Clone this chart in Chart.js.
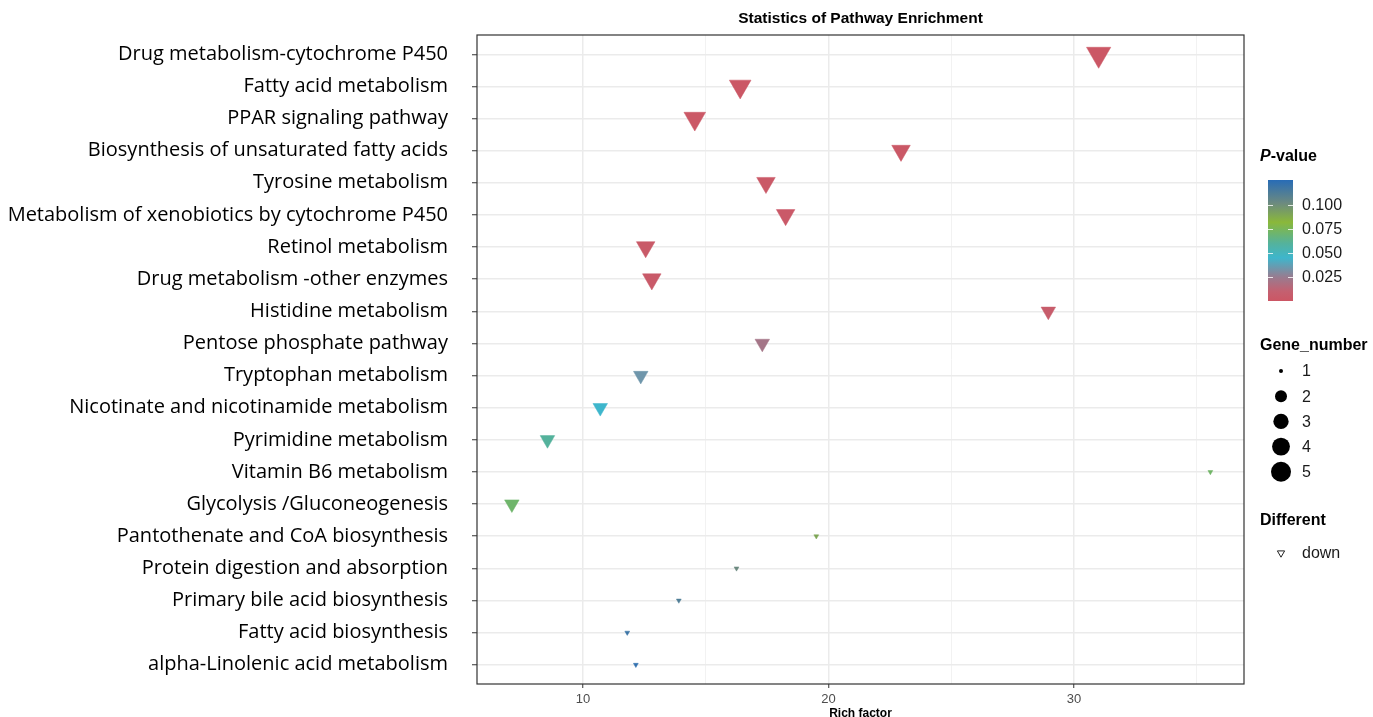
<!DOCTYPE html>
<html>
<head>
<meta charset="utf-8">
<script src="https://cdn.jsdelivr.net/npm/chart.js@4.4.1/dist/chart.umd.min.js"></script>
<style>
  body { margin: 0; background: #fff; }
  canvas { display: block; }
</style>
</head>
<body>
<canvas id="enrichChart" width="1373" height="717"></canvas>
<script>
const pathways = [
    'Drug metabolism-cytochrome P450',
    'Fatty acid metabolism',
    'PPAR signaling pathway',
    'Biosynthesis of unsaturated fatty acids',
    'Tyrosine metabolism',
    'Metabolism of xenobiotics by cytochrome P450',
    'Retinol metabolism',
    'Drug metabolism -other enzymes',
    'Histidine metabolism',
    'Pentose phosphate pathway',
    'Tryptophan metabolism',
    'Nicotinate and nicotinamide metabolism',
    'Pyrimidine metabolism',
    'Vitamin B6 metabolism',
    'Glycolysis /Gluconeogenesis',
    'Pantothenate and CoA biosynthesis',
    'Protein digestion and absorption',
    'Primary bile acid biosynthesis',
    'Fatty acid biosynthesis',
    'alpha-Linolenic acid metabolism'
];
const richFactor = [31.0, 16.4, 14.55, 22.95, 17.45, 18.25, 12.55, 12.8, 28.95, 17.3,
                    12.35, 10.7, 8.55, 35.55, 7.1, 19.5, 16.25, 13.9, 11.8, 12.15];
const pValues = [0.0008, 0.0012, 0.0015, 0.002, 0.0025, 0.003, 0.0035, 0.004, 0.006, 0.021,
                 0.034, 0.045, 0.06, 0.072, 0.071, 0.09, 0.102, 0.112, 0.119, 0.123];
const geneNumber = [5, 4, 4, 3, 3, 3, 3, 3, 2, 2, 2, 2, 2, 1, 2, 1, 1, 1, 1, 1];

const xTicks = [10, 20, 30];
const xMinor = [15, 25, 35];
const pTicks = [0.025, 0.05, 0.075, 0.1];
const geneTicks = [1, 2, 3, 4, 5];

const P_MIN = 0, P_MAX = 0.126;
const colorStops = [
    [0.000, [204, 86, 100]],
    [0.010, [196, 96, 112]],
    [0.025, [152, 124, 144]],
    [0.045, [62, 182, 204]],
    [0.060, [84, 178, 156]],
    [0.082, [138, 184, 58]],
    [0.102, [108, 138, 128]],
    [0.126, [40, 108, 182]]
];

function pColor(p) {
    for (let i = 1; i < colorStops.length; i++) {
        const [p1, c1] = colorStops[i];
        const [p0, c0] = colorStops[i - 1];
        if (p <= p1 || i === colorStops.length - 1) {
            const t = Math.max(0, Math.min(1, (p - p0) / (p1 - p0)));
            const c = c0.map((v, k) => Math.round(v + (c1[k] - v) * t));
            return `rgb(${c[0]},${c[1]},${c[2]})`;
        }
    }
}

// area-style size scale, like scale_size
const sizeFrac = n => Math.sqrt((n - 1) / 4);
const triRadius = n => 2.8 + sizeFrac(n) * (14 - 2.8);
const dotRadius = n => 2 + sizeFrac(n) * 8;

const SANS = '"Liberation Sans", Arial, Helvetica, sans-serif';

const panelFrame = {
    id: 'panelFrame',
    beforeDatasetsDraw(chart) {
        const { ctx, chartArea: a } = chart;
        ctx.save();
        ctx.strokeStyle = '#333';
        ctx.lineWidth = 1.2;
        ctx.strokeRect(a.left, a.top, a.right - a.left, a.bottom - a.top);
        ctx.restore();
    }
};

const extras = {
    id: 'extras',
    afterDraw(chart) {
        const { ctx, chartArea: a } = chart;
        ctx.save();
        ctx.fillStyle = '#000';
        ctx.textBaseline = 'middle';

        // title and x axis title
        ctx.textAlign = 'center';
        ctx.font = `bold 15.5px ${SANS}`;
        ctx.fillText('Statistics of Pathway Enrichment', (a.left + a.right) / 2, 19);
        ctx.font = `bold 12px ${SANS}`;
        ctx.fillText('Rich factor', (a.left + a.right) / 2, 714);

        ctx.textAlign = 'left';
        const lx = 1260, labX = 1302;

        // P-value colour bar
        ctx.font = `italic bold 16px ${SANS}`;
        ctx.fillText('P', lx, 157);
        const pw = ctx.measureText('P').width;
        ctx.font = `bold 16px ${SANS}`;
        ctx.fillText('-value', lx + pw, 157);

        const barL = 1268, barR = 1293, barTop = 180, barBot = 301;
        const py = p => barBot - (p - P_MIN) / (P_MAX - P_MIN) * (barBot - barTop);
        const grad = ctx.createLinearGradient(0, barBot, 0, barTop);
        colorStops.forEach(([p, c]) => {
            grad.addColorStop((p - P_MIN) / (P_MAX - P_MIN), `rgb(${c[0]},${c[1]},${c[2]})`);
        });
        ctx.fillStyle = grad;
        ctx.fillRect(barL, barTop, barR - barL, barBot - barTop);

        ctx.strokeStyle = 'rgba(255,255,255,0.8)';
        ctx.lineWidth = 1;
        ctx.font = `16px ${SANS}`;
        ctx.fillStyle = '#1a1a1a';
        pTicks.forEach(p => {
            const y = Math.round(py(p)) + 0.5;
            ctx.beginPath();
            ctx.moveTo(barL, y); ctx.lineTo(barL + 5, y);
            ctx.moveTo(barR - 5, y); ctx.lineTo(barR, y);
            ctx.stroke();
            ctx.fillText(p.toFixed(3), labX, py(p) + 1);
        });

        // Gene_number sizes
        ctx.fillStyle = '#000';
        ctx.font = `bold 16px ${SANS}`;
        ctx.fillText('Gene_number', lx, 346);
        geneTicks.forEach((n, i) => {
            const y = 371 + i * 25.2;
            ctx.beginPath();
            ctx.arc(1281, y, dotRadius(n), 0, Math.PI * 2);
            ctx.fill();
            ctx.font = `16px ${SANS}`;
            ctx.fillStyle = '#1a1a1a';
            ctx.fillText(String(n), labX, y + 1);
            ctx.fillStyle = '#000';
        });

        // Different
        ctx.font = `bold 16px ${SANS}`;
        ctx.fillText('Different', lx, 521);
        ctx.strokeStyle = '#222';
        ctx.lineWidth = 1;
        const tx = 1281, ty = 553, tr = 4.2;
        ctx.beginPath();
        ctx.moveTo(tx - tr * 0.866, ty - tr / 2);
        ctx.lineTo(tx + tr * 0.866, ty - tr / 2);
        ctx.lineTo(tx, ty + tr);
        ctx.closePath();
        ctx.stroke();
        ctx.font = `16px ${SANS}`;
        ctx.fillStyle = '#1a1a1a';
        ctx.fillText('down', labX, ty + 1);

        ctx.restore();
    }
};

new Chart(document.getElementById('enrichChart'), {
    type: 'scatter',
    data: {
        datasets: [{
            label: 'down',
            data: richFactor.map((x, i) => ({ x: x, y: i })),
            pointStyle: 'triangle',
            rotation: 180,
            pointRadius: geneNumber.map(triRadius),
            pointHoverRadius: geneNumber.map(triRadius),
            backgroundColor: pValues.map(pColor),
            borderColor: pValues.map(pColor),
            borderWidth: 0.5
        }]
    },
    options: {
        responsive: false,
        animation: false,
        events: [],
        layout: { padding: { top: 35, right: 129, bottom: 0, left: 0 } },
        plugins: { legend: { display: false }, tooltip: { enabled: false } },
        scales: {
            x: {
                type: 'linear',
                min: 5.68,
                max: 36.92,
                afterBuildTicks: scale => {
                    scale.ticks = [...xTicks, ...xMinor].sort((a, b) => a - b).map(v => ({ value: v }));
                },
                afterFit: scale => {
                    scale.height = 33;
                    scale.paddingLeft = 0;
                    scale.paddingRight = 0;
                },
                border: { display: false },
                grid: {
                    color: ctx => xTicks.includes(ctx.tick?.value) ? '#EBEBEB' : '#F2F2F2',
                    lineWidth: ctx => xTicks.includes(ctx.tick?.value) ? 1.5 : 1,
                    tickColor: ctx => xTicks.includes(ctx.tick?.value) ? '#333' : 'rgba(0,0,0,0)',
                    tickLength: 4,
                    tickWidth: 1
                },
                ticks: {
                    callback: v => xTicks.includes(v) ? String(v) : '',
                    color: '#4D4D4D',
                    font: { family: '"Liberation Sans Narrow", "Arial Narrow", ' + SANS, size: 13 },
                    padding: 4,
                    maxRotation: 0,
                    autoSkip: false
                }
            },
            y: {
                type: 'linear',
                reverse: true,
                min: -0.6,
                max: pathways.length - 0.4,
                afterBuildTicks: scale => {
                    scale.ticks = pathways.map((_, i) => ({ value: i }));
                },
                afterFit: scale => {
                    scale.width = 477;
                    scale.paddingTop = 0;
                    scale.paddingBottom = 0;
                },
                border: { display: false },
                grid: {
                    color: '#EBEBEB',
                    lineWidth: 1.5,
                    tickColor: '#333',
                    tickLength: 5,
                    tickWidth: 1
                },
                ticks: {
                    callback: v => pathways[v],
                    color: '#000',
                    font: { family: '"Open Sans", "Noto Sans", sans-serif', size: 20 },
                    padding: 24,
                    autoSkip: false
                }
            }
        }
    },
    plugins: [panelFrame, extras]
});
</script>
</body>
</html>
